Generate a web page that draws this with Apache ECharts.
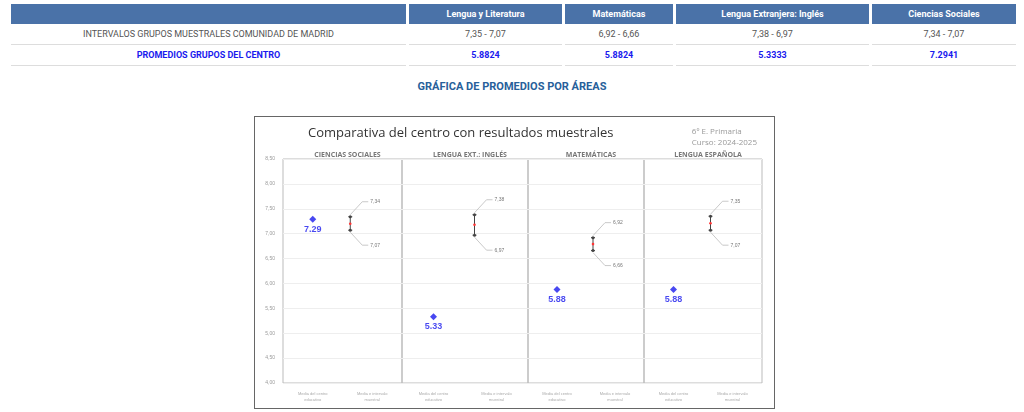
<!DOCTYPE html>
<html>
<head>
<meta charset="utf-8">
<script src="https://cdn.jsdelivr.net/npm/echarts@6/dist/echarts.min.js"></script>
<style>
body{margin:0;background:#fff;font-family:Roboto,"Noto Sans",sans-serif;width:1024px;height:412px;position:relative;overflow:hidden}
table{position:absolute;left:8px;top:4px;width:1011px;border-collapse:separate;border-spacing:3px 0;font-size:9px}
th{background:#4a72a8;color:#fff;height:20px;font-weight:bold;padding:0}
td{text-align:center;height:20px;padding:0;border-bottom:1px solid #ddd}
.r1 td{color:#555}
.r2 td{color:#1a1aee;font-weight:bold}
#tit{position:absolute;left:0;width:1024px;top:80px;text-align:center;color:#27609a;font-weight:bold;font-size:11px}
#main{position:absolute;left:254px;top:116px;width:519px;height:291px;border:1px solid #666}
</style>
</head>
<body>
<table>
<tr><th style="width:395px"></th><th style="width:153px">Lengua y Literatura</th><th style="width:108px">Matemáticas</th><th style="width:193px">Lengua Extranjera: Inglés</th><th>Ciencias Sociales</th></tr>
<tr class="r1"><td>INTERVALOS GRUPOS MUESTRALES COMUNIDAD DE MADRID</td><td>7,35 - 7,07</td><td>6,92 - 6,66</td><td>7,38 - 6,97</td><td>7,34 - 7,07</td></tr>
<tr class="r2"><td>PROMEDIOS GRUPOS DEL CENTRO</td><td>5.8824</td><td>5.8824</td><td>5.3333</td><td>7.2941</td></tr>
</table>
<div id="tit">GRÁFICA DE PROMEDIOS POR ÁREAS</div>
<div id="main"></div>
<script>
// orden de los paneles en la gráfica
var areas = ['CIENCIAS SOCIALES', 'LENGUA EXT.: INGLÉS', 'MATEMÁTICAS', 'LENGUA ESPAÑOLA'];
var centro = [7.29, 5.33, 5.88, 5.88];
var altos = [7.34, 7.38, 6.92, 7.35];
var bajos = [7.07, 6.97, 6.66, 7.07];
var medias = [7.2, 7.18, 6.79, 7.21];
var cats = ['Media del centro\neducativo', 'Media e intervalo\nmuestral'];

var chart = echarts.init(document.getElementById('main'));
var lefts = [28, 147, 273, 389], rights = [147, 273, 389, 507];
var grids = [], xAxes = [], yAxes = [], series = [], titles = [];
titles.push({text:'Comparativa del centro con resultados muestrales', left:48, top:5,
  textStyle:{fontSize:13, fontWeight:'normal', color:'#333', fontFamily:'Open Sans'}});
titles.push({text:'6º E. Primaria\nCurso: 2024-2025', right:12, top:4,
  textStyle:{fontSize:8, fontWeight:'normal', color:'#999', lineHeight:11, fontFamily:'Open Sans'}});
for (var i = 0; i < 4; i++) {
  grids.push({left:lefts[i], width:rights[i]-lefts[i], top:42, bottom:25, show:true, borderColor:'#bbb', borderWidth:1});
  titles.push({text:areas[i], left:lefts[i]+(rights[i]-lefts[i])/2, top:29, textAlign:'center',
    textStyle:{fontSize:7, color:'#777', fontWeight:'bold', fontFamily:'Open Sans'}});
  xAxes.push({gridIndex:i, type:'category', data:cats, axisLine:{show:false}, axisTick:{show:false},
    axisLabel:{fontSize:4, color:'#aaa', lineHeight:6, interval:0}});
  yAxes.push({gridIndex:i, min:4, max:8.5, interval:0.5, axisLine:{show:false}, axisTick:{show:false},
    splitLine:{lineStyle:{color:'#eee'}},
    axisLabel:{show:i===0, fontSize:5, color:'#999', formatter:function(v){return v.toFixed(2).replace('.', ',');}}});
  series.push({type:'scatter', xAxisIndex:i, yAxisIndex:i, data:[[0, centro[i]]], symbol:'diamond', symbolSize:7,
    itemStyle:{color:'#1a1aee'},
    label:{show:true, position:'bottom', distance:2, formatter:centro[i].toFixed(2), color:'#1a1aee', fontWeight:'bold', fontSize:9}});
  series.push({type:'custom', xAxisIndex:i, yAxisIndex:i, data:[[1, altos[i], bajos[i], medias[i]]],
    renderItem:function(params, api){
      var hi = api.coord([api.value(0), api.value(1)]);
      var lo = api.coord([api.value(0), api.value(2)]);
      var md = api.coord([api.value(0), api.value(3)]);
      var x = hi[0] - 22, st = {stroke:'#444', lineWidth:1};
      var fmt = function(v){return v.toFixed(2).replace('.', ',');};
      return {type:'group', children:[
        {type:'line', shape:{x1:x, y1:hi[1], x2:x, y2:lo[1]}, style:st},
        {type:'line', shape:{x1:x-2, y1:hi[1], x2:x+2, y2:hi[1]}, style:st},
        {type:'line', shape:{x1:x-2, y1:lo[1], x2:x+2, y2:lo[1]}, style:st},
        {type:'circle', shape:{cx:x, cy:hi[1], r:1.5}, style:{fill:'#444'}},
        {type:'circle', shape:{cx:x, cy:lo[1], r:1.5}, style:{fill:'#444'}},
        {type:'circle', shape:{cx:x, cy:md[1], r:1.3}, style:{fill:'#f33'}},
        {type:'polyline', shape:{points:[[x, hi[1]-2], [x+12, hi[1]-15], [x+18, hi[1]-15]]}, style:{stroke:'#bbb', fill:null, lineWidth:0.8}},
        {type:'polyline', shape:{points:[[x, lo[1]+2], [x+12, lo[1]+15], [x+18, lo[1]+15]]}, style:{stroke:'#bbb', fill:null, lineWidth:0.8}},
        {type:'text', style:{x:x+20, y:hi[1]-15, text:fmt(api.value(1)), fontSize:5, fill:'#777', verticalAlign:'middle'}},
        {type:'text', style:{x:x+20, y:lo[1]+15, text:fmt(api.value(2)), fontSize:5, fill:'#777', verticalAlign:'middle'}}
      ]};
    }});
}
chart.setOption({animation:false, title:titles, grid:grids, xAxis:xAxes, yAxis:yAxes, series:series});
</script>
</body>
</html>
